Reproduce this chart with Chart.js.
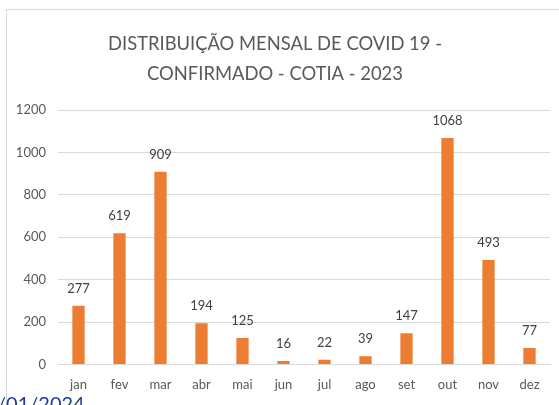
<!DOCTYPE html>
<html>
<head>
<meta charset="utf-8">
<script src="https://cdn.jsdelivr.net/npm/chart.js@4"></script>
<style>
  body { margin: 0; background: #fff; overflow: hidden; }
  #frame { position: absolute; left: 6px; top: 9px; width: 600px; height: 420px; border: 1px solid #d9d9d9; }
  #myChart { position: absolute; left: 0; top: 0; }
  #stamp { position: absolute; left: -3px; top: 391px; font: 20px Lato, sans-serif; color: #1f3d99; }
</style>
</head>
<body>
<div id="frame"></div>
<canvas id="myChart" width="559" height="405"></canvas>
<div id="stamp">/01/2024</div>
<script>
'use strict'

/* global Chart */

const months = ['jan', 'fev', 'mar', 'abr', 'mai', 'jun', 'jul', 'ago', 'set', 'out', 'nov', 'dez']
const cases = [277, 619, 909, 194, 125, 16, 22, 39, 147, 1068, 493, 77]
const titleLines = ['DISTRIBUIÇÃO MENSAL DE COVID 19 -', 'CONFIRMADO - COTIA - 2023']

const fontName = 'Lato, "Open Sans", sans-serif'

// numbers over each bar
const barLabels = {
  id: 'barLabels',
  afterDatasetsDraw (chart) {
    const ctx = chart.ctx
    const meta = chart.getDatasetMeta(0)
    ctx.save()
    ctx.font = '13px ' + fontName
    ctx.fillStyle = '#404040'
    ctx.textAlign = 'center'
    ctx.textBaseline = 'middle'
    meta.data.forEach((bar, i) => {
      ctx.fillText(String(cases[i]), bar.x, bar.y - 17)
    })
    ctx.restore()
  }
}

const myChart = new Chart(document.querySelector('#myChart'), {
  type: 'bar',
  data: {
    labels: months,
    datasets: [{
      data: cases,
      backgroundColor: '#ed7d31',
      categoryPercentage: 1,
      barPercentage: 0.3
    }]
  },
  options: {
    responsive: false,
    animation: false,
    layout: { padding: { left: 0, right: 9, top: 29, bottom: 7 } },
    plugins: {
      legend: { display: false },
      tooltip: { enabled: false },
      title: {
        display: true,
        text: titleLines,
        color: '#595959',
        font: { family: fontName, size: 18.4, weight: 'normal', lineHeight: 30 / 18.4 },
        padding: { top: 0, bottom: 21 }
      }
    },
    scales: {
      x: {
        grid: { display: false },
        border: { color: '#d9d9d9' },
        ticks: { color: '#595959', font: { family: fontName, size: 13 }, padding: 5 }
      },
      y: {
        min: 0,
        max: 1200,
        ticks: {
          stepSize: 200,
          color: '#595959',
          font: { family: fontName, size: 13 },
          padding: 12,
          callback: (v) => String(v)
        },
        grid: { color: '#d9d9d9', drawTicks: false },
        border: { display: false },
        afterFit (scale) { scale.width = 58 }
      }
    }
  },
  plugins: [barLabels]
})
</script>
</body>
</html>
